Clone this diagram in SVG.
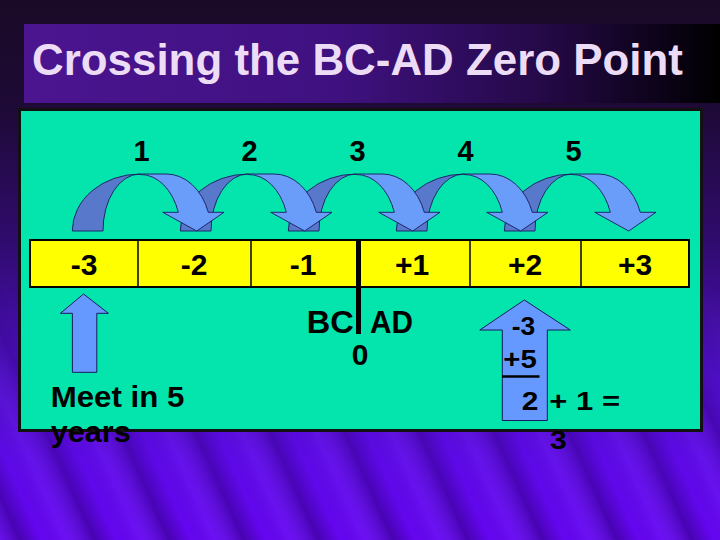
<svg xmlns="http://www.w3.org/2000/svg" width="720" height="540" viewBox="0 0 720 540">
  <defs>
    <linearGradient id="bg" x1="0" y1="0" x2="0" y2="1">
      <stop offset="0" stop-color="#1a0a26"/>
      <stop offset="0.2" stop-color="#1e0a36"/>
      <stop offset="0.45" stop-color="#300b6e"/>
      <stop offset="0.7" stop-color="#4e0fc4"/>
      <stop offset="0.85" stop-color="#5e0ae8"/>
      <stop offset="1" stop-color="#6606f2"/>
    </linearGradient>
    <linearGradient id="streak" gradientUnits="userSpaceOnUse" x1="0" y1="0" x2="62" y2="-28" spreadMethod="repeat">
      <stop offset="0" stop-color="#2a0070" stop-opacity="0.5"/>
      <stop offset="0.3" stop-color="#2a0070" stop-opacity="0"/>
      <stop offset="0.6" stop-color="#8a40ff" stop-opacity="0.18"/>
      <stop offset="1" stop-color="#2a0070" stop-opacity="0.5"/>
    </linearGradient>
    <linearGradient id="fade" x1="0" y1="0" x2="0" y2="1">
      <stop offset="0" stop-color="#fff" stop-opacity="0"/>
      <stop offset="0.5" stop-color="#fff" stop-opacity="0.7"/>
      <stop offset="1" stop-color="#fff" stop-opacity="1"/>
    </linearGradient>
    <mask id="fadeMask">
      <rect x="0" y="280" width="720" height="260" fill="url(#fade)"/>
    </mask>
    <linearGradient id="banner" x1="0" y1="0" x2="1" y2="0">
      <stop offset="0" stop-color="#4b1590"/>
      <stop offset="0.45" stop-color="#3f1180"/>
      <stop offset="0.75" stop-color="#240946"/>
      <stop offset="0.93" stop-color="#0a0214"/>
      <stop offset="1" stop-color="#000000"/>
    </linearGradient>
    <style>
      .t { font-family: "Liberation Sans", Arial, sans-serif; font-weight: bold; fill: #000; }
      .num { font-size: 30px; text-anchor: middle; }
      .top { font-size: 29px; text-anchor: middle; }
      .dark { fill: #5878cc; stroke: #1a1a5e; stroke-width: 0.9; }
      .light { fill: #6a9cfa; stroke: #1a1a5e; stroke-width: 0.9; }
      .up { fill: #6699ff; stroke: #1a1a5e; stroke-width: 1; }
      .div { stroke: #000; stroke-width: 1.5; }
      .blk { font-size: 26px; }
    </style>
    <g id="curve">
      <path class="dark" d="M72.3,231 A68,57 0 0 1 140,174 A37,56.5 0 0 0 103,231 Z"/>
      <path class="light" d="M140,174 L166,174 A44.5,57 0 0 1 208.3,212.3 L224,212.3 L196.7,231 L162.7,212.3 L178.3,212.3 A40,56.5 0 0 0 140,174.5 Z"/>
    </g>
  </defs>

  <g id="background">
    <rect x="0" y="0" width="720" height="540" fill="url(#bg)"/>
    <rect x="0" y="280" width="720" height="260" fill="url(#streak)" mask="url(#fadeMask)"/>
  </g>

  <g id="title">
    <rect x="24" y="24" width="696" height="79" fill="url(#banner)"/>
    <text x="32" y="75" font-family="Liberation Sans, Arial, sans-serif" font-weight="bold" font-size="44" fill="#ecdcf6" textLength="651" lengthAdjust="spacingAndGlyphs">Crossing the BC-AD Zero Point</text>
  </g>

  <g id="panel">
    <rect x="19.5" y="109.5" width="682" height="321" fill="#03e5ad" stroke="#111" stroke-width="3"/>
  </g>

  <g id="numberline">
    <rect x="30" y="240" width="659" height="47" fill="#ffff00" stroke="#000" stroke-width="2"/>
    <line class="div" x1="138" y1="240" x2="138" y2="287"/>
    <line class="div" x1="251" y1="240" x2="251" y2="287"/>
    <line class="div" x1="470" y1="240" x2="470" y2="287"/>
    <line class="div" x1="581" y1="240" x2="581" y2="287"/>
    <text class="t num" x="84" y="275">-3</text>
    <text class="t num" x="194" y="275">-2</text>
    <text class="t num" x="303" y="275">-1</text>
    <text class="t num" x="412" y="275">+1</text>
    <text class="t num" x="525" y="275">+2</text>
    <text class="t num" x="635" y="275">+3</text>
  </g>

  <g id="zero-marker">
    <line x1="358.5" y1="239" x2="358.5" y2="334" stroke="#000" stroke-width="5"/>
    <text class="t" x="306.7" y="333" font-size="31" textLength="47" lengthAdjust="spacingAndGlyphs">BC</text>
    <text class="t" x="370" y="333" font-size="31" textLength="43" lengthAdjust="spacingAndGlyphs">AD</text>
    <text class="t" x="360" y="365" font-size="30" text-anchor="middle">0</text>
  </g>

  <g id="connectors">
    <use href="#curve" transform="translate(432,0)"/>
    <use href="#curve" transform="translate(324,0)"/>
    <use href="#curve" transform="translate(216,0)"/>
    <use href="#curve" transform="translate(108,0)"/>
    <use href="#curve"/>
  </g>

  <g id="step-labels">
    <text class="t top" x="141.5" y="161">1</text>
    <text class="t top" x="249.5" y="161">2</text>
    <text class="t top" x="357.5" y="161">3</text>
    <text class="t top" x="465.5" y="161">4</text>
    <text class="t top" x="573.5" y="161">5</text>
  </g>

  <g id="meet-arrow">
    <path class="up" d="M83.5,294 L108.4,313.3 L96.8,313.3 L96.8,372.3 L72.4,372.3 L72.4,313.3 L60.4,313.3 Z"/>
    <text class="t" x="50.7" y="406.7" font-size="30" textLength="133.6" lengthAdjust="spacingAndGlyphs">Meet in 5</text>
    <text class="t" x="50.7" y="441.7" font-size="30" textLength="80" lengthAdjust="spacingAndGlyphs">years</text>
  </g>

  <g id="sum-arrow">
    <path class="up" d="M524.3,300 L570.3,330 L547.3,330 L547.3,420.5 L502.3,420.5 L502.3,330 L479.8,330 Z"/>
    <text class="t blk" x="511.7" y="335" textLength="23.5" lengthAdjust="spacingAndGlyphs">-3</text>
    <text class="t blk" x="503.3" y="368" textLength="33.5" lengthAdjust="spacingAndGlyphs">+5</text>
    <line x1="502" y1="376.5" x2="539.5" y2="376.5" stroke="#000" stroke-width="2.5"/>
    <text class="t blk" x="521.7" y="410" textLength="16.6" lengthAdjust="spacingAndGlyphs">2</text>
    <text class="t blk" x="549.3" y="410" textLength="70.7" lengthAdjust="spacingAndGlyphs">+ 1 =</text>
    <text class="t blk" x="550" y="449" textLength="16.7" lengthAdjust="spacingAndGlyphs">3</text>
  </g>
</svg>
